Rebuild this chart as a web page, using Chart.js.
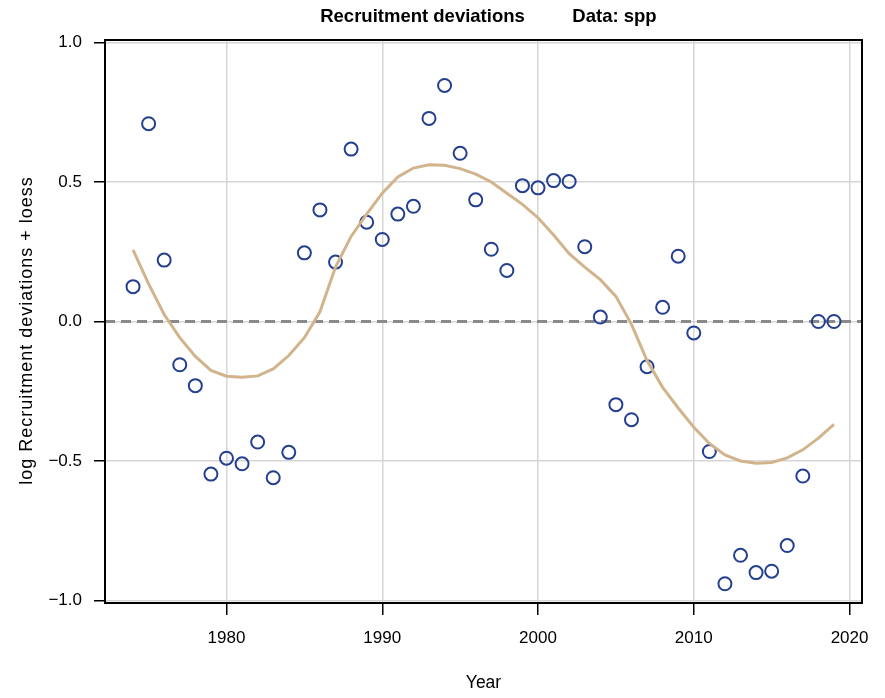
<!DOCTYPE html>
<html>
<head>
<meta charset="utf-8">
<script src="https://cdn.jsdelivr.net/npm/chart.js@4/dist/chart.umd.min.js"></script>
<style>
    html, body { margin: 0; padding: 0; background: #fff; }
    #wrap { width: 885px; height: 698px; }
</style>
</head>
<body>
<div id="wrap"><canvas id="recChart"></canvas></div>
<script>
// recruitment deviations by year, plus the loess fit through them
const years = [1974, 1975, 1976, 1977, 1978, 1979, 1980, 1981, 1982, 1983,
               1984, 1985, 1986, 1987, 1988, 1989, 1990, 1991, 1992, 1993,
               1994, 1995, 1996, 1997, 1998, 1999, 2000, 2001, 2002, 2003,
               2004, 2005, 2006, 2007, 2008, 2009, 2010, 2011, 2012, 2013,
               2014, 2015, 2016, 2017, 2018, 2019];

const recDevs = [0.125, 0.709, 0.22, -0.155, -0.23, -0.547, -0.49, -0.51, -0.432, -0.56,
                 -0.469, 0.246, 0.40, 0.213, 0.618, 0.356, 0.294, 0.385, 0.413, 0.728,
                 0.846, 0.603, 0.436, 0.259, 0.183, 0.487, 0.479, 0.505, 0.502, 0.268,
                 0.016, -0.298, -0.352, -0.162, 0.051, 0.234, -0.041, -0.466, -0.94, -0.838,
                 -0.9, -0.895, -0.803, -0.554, 0, 0];

const loessFit = [0.257, 0.135, 0.025, -0.058, -0.125, -0.175, -0.196, -0.2, -0.195, -0.17,
                  -0.122, -0.058, 0.035, 0.195, 0.305, 0.385, 0.46, 0.518, 0.55, 0.562,
                  0.56, 0.548, 0.528, 0.5, 0.46, 0.42, 0.372, 0.31, 0.243, 0.195,
                  0.15, 0.09, -0.01, -0.14, -0.236, -0.31, -0.379, -0.437, -0.478, -0.5,
                  -0.508, -0.505, -0.489, -0.46, -0.418, -0.369];

const xTicks = [1980, 1990, 2000, 2010, 2020];
const yTicks = [-1.0, -0.5, 0.0, 0.5, 1.0];

const X_MIN = 1972.2, X_MAX = 2020.8;
const Y_MIN = -1.009, Y_MAX = 1.009;

const FONT = "'Liberation Sans', Arial, Helvetica, sans-serif";

// frame around the plot + titles, drawn by hand like base graphics
const framePlugin = {
    id: "frame",
    afterDatasetsDraw(chart) {
        const { ctx, chartArea: a } = chart;
        ctx.save();
        ctx.strokeStyle = "#000";
        ctx.lineWidth = 2;
        ctx.strokeRect(a.left, a.top, a.right - a.left, a.bottom - a.top);
        ctx.restore();
    },
    afterDraw(chart) {
        const { ctx, chartArea: a } = chart;
        const midX = (a.left + a.right) / 2;
        ctx.save();
        ctx.fillStyle = "#000";
        ctx.textAlign = "center";
        ctx.textBaseline = "middle";

        ctx.font = "bold 18.5px " + FONT;
        ctx.fillText("Recruitment deviations", midX - 61, 17);
        ctx.fillText("Data: spp", midX + 131, 17);

        ctx.font = "17.5px " + FONT;
        ctx.fillText("Year", midX, 683);

        ctx.font = "18px " + FONT;
        ctx.letterSpacing = "1px";
        ctx.translate(27, (a.top + a.bottom) / 2 + 9);
        ctx.rotate(-Math.PI / 2);
        ctx.fillText("log Recruitment deviations + loess", 0, 0);
        ctx.restore();
    }
};

const ctx = document.getElementById("recChart");

new Chart(ctx, {
    type: "scatter",
    data: {
        datasets: [
            {
                label: "loess",
                type: "line",
                data: years.map((y, i) => ({ x: y, y: loessFit[i] })),
                borderColor: "#d2b48c",
                borderWidth: 3,
                pointRadius: 0,
                tension: 0,
                fill: false,
                order: 1
            },
            {
                label: "recdevs",
                data: years.map((y, i) => ({ x: y, y: recDevs[i] })),
                pointStyle: "circle",
                pointRadius: 6.5,
                pointBorderWidth: 2,
                pointBorderColor: "#243f8f",
                pointBackgroundColor: "rgba(0,0,0,0)",
                showLine: false,
                order: 2
            },
            {
                label: "zero",
                type: "line",
                data: [{ x: X_MIN, y: 0 }, { x: X_MAX, y: 0 }],
                borderColor: "#8a8a8a",
                borderWidth: 3,
                borderDash: [10, 6],
                pointRadius: 0,
                fill: false,
                order: 3
            }
        ]
    },
    options: {
        responsive: true,
        maintainAspectRatio: false,
        animation: false,
        layout: {
            padding: { top: 40, right: 23, left: 0, bottom: 0 }
        },
        plugins: {
            legend: { display: false },
            title: { display: false },
            tooltip: { enabled: false }
        },
        scales: {
            x: {
                type: "linear",
                min: X_MIN,
                max: X_MAX,
                afterBuildTicks: scale => {
                    scale.ticks = xTicks.map(v => ({ value: v }));
                },
                afterFit: scale => { scale.height = 95; },
                border: { display: false },
                grid: {
                    color: "#d6d6d6",
                    lineWidth: 1.5,
                    drawTicks: true,
                    tickLength: 12,
                    tickColor: "#000",
                    tickWidth: 1.5
                },
                ticks: {
                    color: "#000",
                    padding: 13,
                    maxRotation: 0,
                    font: { family: FONT, size: 17 },
                    callback: v => String(v)
                }
            },
            y: {
                min: Y_MIN,
                max: Y_MAX,
                afterBuildTicks: scale => {
                    scale.ticks = yTicks.map(v => ({ value: v }));
                },
                afterFit: scale => { scale.width = 105; },
                border: { display: false },
                grid: {
                    color: "#d6d6d6",
                    lineWidth: 1.5,
                    drawTicks: true,
                    tickLength: 11,
                    tickColor: "#000",
                    tickWidth: 1.5
                },
                ticks: {
                    color: "#000",
                    padding: 12,
                    font: { family: FONT, size: 17 },
                    callback: v => v.toFixed(1).replace("-", "\u2212")
                }
            }
        }
    },
    plugins: [framePlugin]
});
</script>
</body>
</html>
